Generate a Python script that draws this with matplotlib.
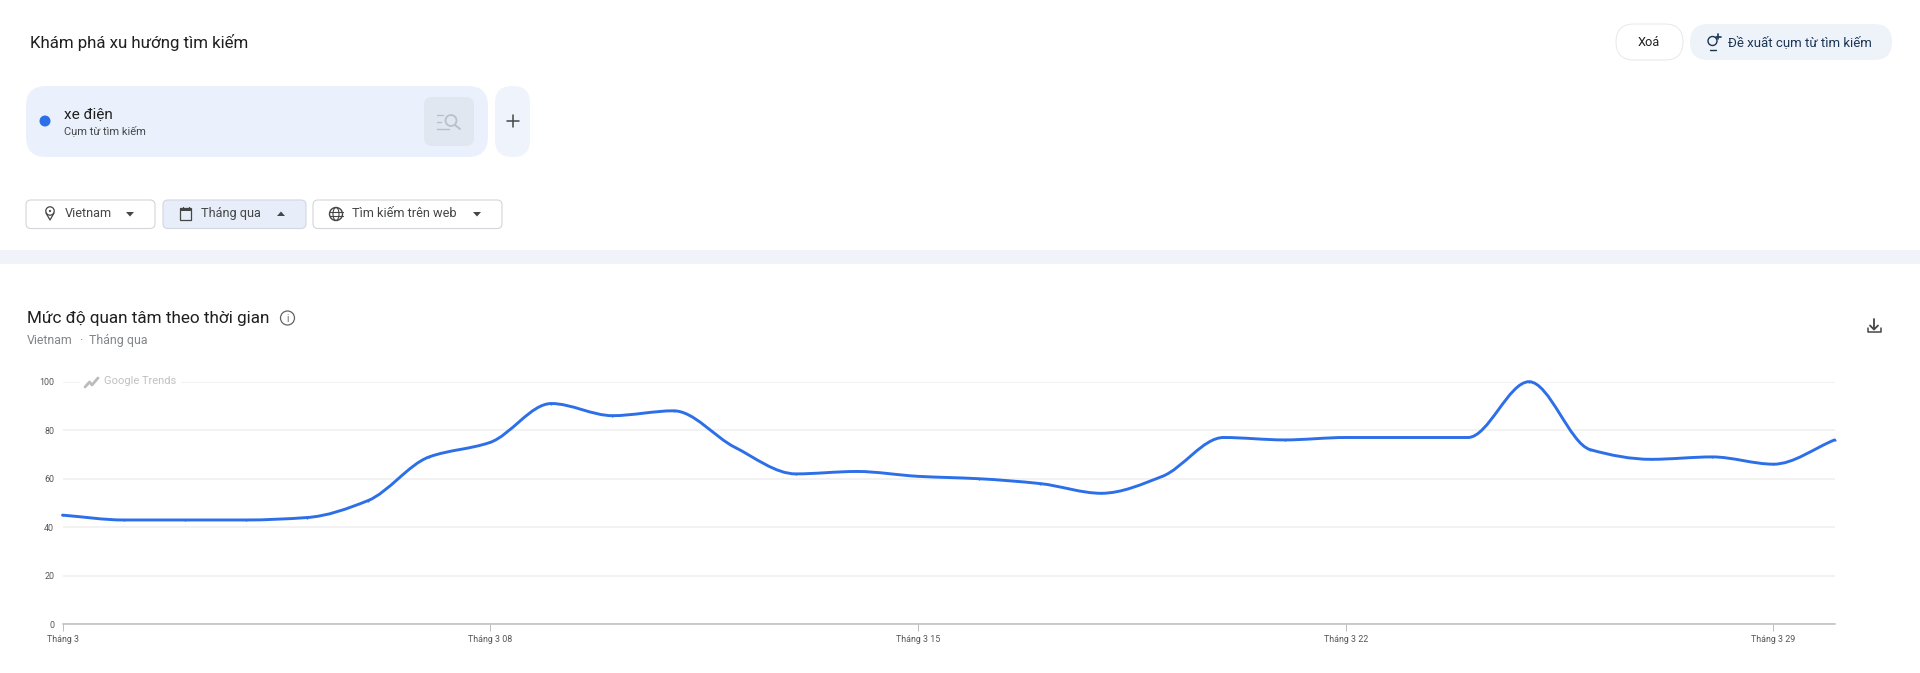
import numpy as np
import matplotlib
matplotlib.use("Agg")
import matplotlib.pyplot as plt
from matplotlib.patches import FancyBboxPatch, Circle, Rectangle, Ellipse, PathPatch, Polygon
from matplotlib.path import Path

plt.rcParams['font.family'] = ['Roboto', 'Noto Sans', 'DejaVu Sans']

days = list(range(30))
interest = [45, 43, 43, 43, 44, 51, 69, 75, 91, 86, 88, 73, 62, 63, 61, 60, 58, 54, 61, 77,
            76, 77, 77, 77, 100, 72, 68, 69, 66, 76]
y_ticks = [0, 20, 40, 60, 80, 100]
x_ticks = [0, 7, 14, 21, 28]
x_tick_labels = ['Tháng 3', 'Tháng 3 08', 'Tháng 3 15', 'Tháng 3 22', 'Tháng 3 29']

W, H = 1920, 673
BLUE = '#2d6fe8'
fig = plt.figure(figsize=(W / 100, H / 100), dpi=100, facecolor='white')

# chart
L, R, T, B = 62.5, 1834.6, 381.7, 624.3
ax = fig.add_axes([L / W, 1 - B / H, (R - L) / W, (B - T) / H])
ax.set_xlim(0, 29)
ax.set_ylim(0, 100)
ax.patch.set_alpha(0)
for s in ['top', 'right', 'left']:
    ax.spines[s].set_visible(False)
ax.spines['bottom'].set_color('#bdbdbd')
ax.spines['bottom'].set_linewidth(1.1)
ax.set_yticks(y_ticks)
ax.set_yticklabels([str(v) for v in y_ticks], fontsize=6.4, color='#555555')
ax.set_xticks(x_ticks)
ax.set_xticklabels(x_tick_labels, fontsize=6.4, color='#555555')
ax.tick_params(axis='y', length=0, pad=6)
ax.tick_params(axis='x', length=5, width=0.7, color='#bdbdbd', pad=2.5)
ax.grid(axis='y', color='#f0f0f0', lw=1.2)
ax.set_axisbelow(True)

# smooth monotone curve through the read values
xv = np.asarray(days, float)
yv = np.asarray(interest, float)
d = np.diff(yv) / np.diff(xv)
m = np.zeros_like(yv)
m[0], m[-1] = d[0], d[-1]
for i in range(1, len(yv) - 1):
    if d[i - 1] * d[i] > 0:
        m[i] = 2 * d[i - 1] * d[i] / (d[i - 1] + d[i])
verts = [(xv[0], yv[0])]
codes = [Path.MOVETO]
for i in range(len(xv) - 1):
    h = xv[i + 1] - xv[i]
    verts += [(xv[i] + h / 3, yv[i] + m[i] * h / 3),
              (xv[i + 1] - h / 3, yv[i + 1] - m[i + 1] * h / 3),
              (xv[i + 1], yv[i + 1])]
    codes += [Path.CURVE4] * 3
ax.add_patch(PathPatch(Path(verts, codes), fc='none', ec=BLUE, lw=2.1, capstyle='round',
                       joinstyle='round', clip_on=False, zorder=3))
ax.plot(days, interest, ls='none', marker='o', ms=1.5, mew=0, color=BLUE, clip_on=False, zorder=3)

# interface overlay in pixel coordinates
ui = fig.add_axes([0, 0, 1, 1], zorder=5)
ui.set_xlim(0, W)
ui.set_ylim(H, 0)
ui.axis('off')
ui.patch.set_alpha(0)


def box(x0, y0, x1, y1, r, fc, ec='none', lw=1.0, z=1):
    ui.add_patch(FancyBboxPatch((x0 + r, y0 + r), x1 - x0 - 2 * r, y1 - y0 - 2 * r,
                                boxstyle=f'round,pad={r},rounding_size={r}',
                                fc=fc, ec=ec, lw=lw, zorder=z))


def txt(x, y, s, size, color='#202124', ha='left', **kw):
    ui.text(x, y, s, fontsize=size, color=color, ha=ha, va='center', zorder=4, **kw)


def stroke(pts, color, lw=1.2, z=3):
    p = np.array(pts, float)
    ui.plot(p[:, 0], p[:, 1], color=color, lw=lw, zorder=z, solid_capstyle='round')


def ring(x, y, r, color, lw=1.1, z=3):
    ui.add_patch(Circle((x, y), r, fc='none', ec=color, lw=lw, zorder=z))


def caret(x, y, up=False, color='#444746'):
    s = -1 if up else 1
    ui.add_patch(Polygon([(x - 4, y - 2 * s), (x + 4, y - 2 * s), (x, y + 2.5 * s)],
                         fc=color, ec='none', zorder=3))


# header
txt(30, 42.5, 'Khám phá xu hướng tìm kiếm', 12.2, '#1f1f1f')
box(1616, 24, 1683, 60, 18, 'white', '#e8e8e8', 0.7)
txt(1649, 42.5, 'Xoá', 9.2, '#1f1f1f', ha='center')
box(1690, 24, 1892, 60, 18, '#eef2f9')
txt(1728, 42.5, 'Đề xuất cụm từ tìm kiếm', 9.5, '#1b3555')
ring(1712.5, 41, 4.5, '#1b3555', 1.0)
stroke([(1709.5, 50), (1715.5, 50)], '#1b3555', 1.0)
stroke([(1718, 34), (1718, 39)], '#1b3555', 1.2)
stroke([(1715.5, 36.5), (1720.5, 36.5)], '#1b3555', 1.2)

# search-term card
box(26, 86, 488, 157, 20, '#ebf1fc')
box(495, 86, 530, 157, 17, '#eff3fb')
ui.add_patch(Ellipse((45, 121), 11, 11, fc=BLUE, ec='none', zorder=3))
txt(63.5, 114.5, 'xe điện', 11.0, '#1f1f1f')
txt(63.5, 131, 'Cụm từ tìm kiếm', 8.0, '#444746')
box(424, 97, 474, 146, 8, '#e1e7f0')
for y0, x1 in [(115, 443), (122, 441), (129, 449)]:
    stroke([(437, y0), (x1, y0)], '#b9c0ca', 1.0)
ring(451, 120.5, 5.5, '#b9c0ca', 1.3)
stroke([(455, 125), (460, 129)], '#b9c0ca', 1.4)
stroke([(512.5, 115), (512.5, 127)], '#444746', 1.1)
stroke([(506.5, 121), (518.5, 121)], '#444746', 1.1)

# filters
box(26, 200, 155, 228.5, 5, 'white', '#d2d5d9', 0.8)
box(163, 200, 306, 228.5, 5, '#e7edf9', '#d0d6e2', 0.8)
box(313, 200, 502, 228.5, 5, 'white', '#d2d5d9', 0.8)
txt(65, 213.5, 'Vietnam', 9.2, '#444746')
txt(201, 213.5, 'Tháng qua', 9.2, '#444746')
txt(352, 213.5, 'Tìm kiếm trên web', 9.2, '#444746')
caret(130, 214)
caret(281, 214, up=True)
caret(477, 214)
# pin
ring(50, 211, 4.2, '#444746', 0.9)
ui.add_patch(Circle((50, 211), 1.1, fc='#444746', ec='none', zorder=3))
stroke([(46, 213), (50, 220), (54, 213)], '#444746', 0.9)
# calendar
ui.add_patch(Rectangle((180, 208), 11, 12, fc='none', ec='#444746', lw=0.9, zorder=3))
ui.add_patch(Rectangle((180, 208), 11, 2.5, fc='#444746', ec='none', zorder=3))
stroke([(182.5, 206.5), (182.5, 208)], '#444746', 0.9)
stroke([(188.5, 206.5), (188.5, 208)], '#444746', 0.9)
# globe
ring(336, 214, 6.5, '#444746', 1.0)
ui.add_patch(Ellipse((336, 214), 6, 13, fc='none', ec='#444746', lw=0.8, zorder=3))
stroke([(329.5, 212), (342.5, 212)], '#444746', 0.8)
stroke([(329.5, 216), (342.5, 216)], '#444746', 0.8)

# separator band
ui.add_patch(Rectangle((0, 250), W, 14, fc='#f0f3fa', ec='none', zorder=1))

# section heading
txt(27, 318, 'Mức độ quan tâm theo thời gian', 12.3, '#1f1f1f')
ring(287.5, 318, 7, '#5f6368', 0.9)
txt(287.5, 318.5, 'i', 7, '#5f6368', ha='center')
txt(27, 340.5, 'Vietnam', 8.9, '#80868b')
txt(81, 340.5, '·', 8.9, '#80868b', ha='center')
txt(89, 340.5, 'Tháng qua', 8.9, '#80868b')

# download icon
stroke([(1874, 319), (1874, 329)], '#444746', 1.3)
stroke([(1870, 325.5), (1874, 329.5), (1878, 325.5)], '#444746', 1.3)
stroke([(1867.5, 328), (1867.5, 332), (1880.5, 332), (1880.5, 328)], '#444746', 1.1)

# watermark
ui.add_patch(Rectangle((80, 376), 101, 12, fc='white', ec='none', zorder=2))
stroke([(85, 387), (89.5, 382), (92, 385), (98, 378)], '#bcbcbc', 2.0)
txt(103.5, 381.5, 'Google Trends', 8.0, '#c0c0c0')

fig.savefig('out.png', dpi=100, facecolor='white')
